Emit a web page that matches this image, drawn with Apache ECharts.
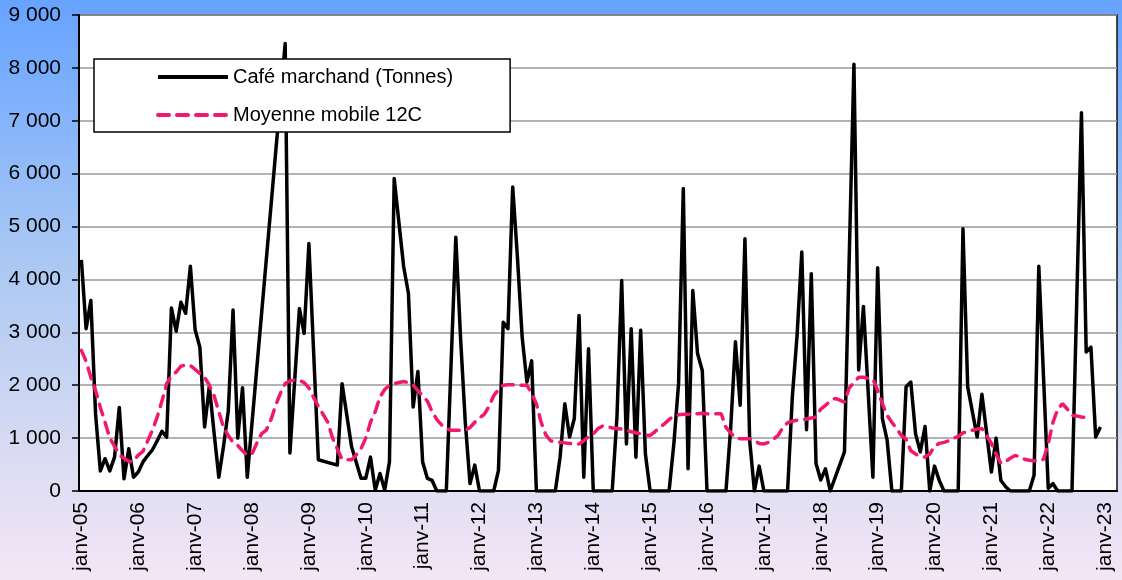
<!DOCTYPE html>
<html>
<head>
<meta charset="utf-8">
<script src="https://cdn.jsdelivr.net/npm/echarts@6/dist/echarts.min.js"></script>
<style>
  html, body { margin: 0; padding: 0; }
  #chart { width: 1122px; height: 580px; }
</style>
</head>
<body>
<div id="chart"></div>
<script>
// categories : janv-05 .. mars-23 (l'axe va un peu au-dela de janv-23)
const moisNoms = ["janv", "févr", "mars", "avr", "mai", "juin", "juil", "août", "sept", "oct", "nov", "déc"];
const mois = [];
for (let a = 5; a <= 23; a++) {
  for (let i = 0; i < 12; i++) {
    if (a === 23 && i > 2) break;
    mois.push(moisNoms[i] + "-" + String(a).padStart(2, "0"));
  }
}

// Café marchand (Tonnes), une ligne par année (null = mois absent)
const cafe = [
  4370, 3070, 3600, 1450, 380, 610, 380, 640, 1580, 230, 800, 260,
  360, 550, 670, 780, 950, 1130, 1020, 3460, 3020, 3570, 3360, 4250,
  3050, 2720, 1210, 1980, 1100, 260, 850, 1520, 3420, 1000, 1950, 260,
  null, null, null, null, null, null, null, 8460, 720, null, 3450, 2980,
  4680, null, 590, null, null, null, 490, 2030, null, 840, null, 240,
  240, 640, 20, 330, 20, 550, 5910, null, 4240, 3740, 1590, 2260,
  550, 240, 200, 0, 0, 0, null, 4800, 2900, 1300, 140, 490,
  0, 0, 0, 0, 390, 3190, 3070, 5750, 4420, 2910, 2060, 2460,
  0, 0, 0, 0, 0, 640, 1650, 1020, 1370, 3320, 260, 2690,
  0, 0, 0, 0, 0, 1400, 3980, 890, 3070, 640, 3040, 700,
  0, 0, 0, 0, 0, 890, 2030, 5720, 420, 3790, 2600, 2280,
  0, 0, 0, 0, 0, 1200, 2820, 1620, 4770, 960, 0, 470,
  0, 0, 0, 0, 0, 0, 1780, 2940, 4520, 1160, 4110, 520,
  210, 420, 0, null, null, 740, null, 8070, 2290, 3490, null, 260,
  4220, 1370, 960, 0, 0, 0, 1970, 2060, 1080, 740, 1220, 0,
  470, 200, 0, 0, 0, 0, 4960, 1970, null, 1020, 1830, null,
  360, 1000, 200, 80, 0, 0, 0, 0, 0, 300, 4250, null,
  50, 140, 0, 0, 0, 0, null, 7150, 2630, 2720, 1020, 1210
];

// Moyenne mobile 12C
const moyenne = [
  2660, 2450, 2150, 1900, 1580, 1300, 1000, 850, 680, 620, 560, 560,
  680, 750, 950, 1150, 1400, 1700, 2030, 2180, 2250, 2360, 2380, 2370,
  2300, 2220, 2150, 2000, 1800, 1500, 1200, 1050, 920, 860, 760, 680,
  700, 900, 1080, 1150, 1350, 1620, 1850, 2030, 2080, 2100, 2090, 2050,
  1950, 1770, 1600, 1450, 1300, 1000, 800, 600, 590, 590, 680, 800,
  1000, 1300, 1500, 1780, 1920, 2000, 2030, 2050, 2070, 2050, 2000, 1900,
  1800, 1700, 1500, 1350, 1250, 1180, 1150, 1150, 1150, 1150, 1200, 1300,
  1380, 1450, 1600, 1800, 1920, 2000, 2010, 2010, 2000, 2000, 2000, 1850,
  1650, 1300, 1060, 950, 930, 920, 910, 900, 890, 890, 950, 1030,
  1080, 1180, 1230, 1220, 1190, 1180, 1170, 1150, 1120, 1100, 1080, 1060,
  1050, 1120, 1200, 1270, 1350, 1420, 1440, 1450, 1450, 1460, 1460, 1470,
  1460, 1450, 1460, 1460, 1200, 1100, 1000, 990, 990, 990, 950, 900,
  890, 920, 980, 1050, 1200, 1290, 1320, 1340, 1340, 1360, 1380, 1400,
  1550, 1620, 1700, 1750, 1720, 1680, 1950, 2050, 2150, 2150, 2130, 2120,
  1900, 1650, 1430, 1300, 1180, 1050, 980, 760, 700, 650, 640, 700,
  850, 900, 920, 950, 1000, 1030, 1100, 1120, 1150, 1170, 1180, 1050,
  900, 700, 520, 560, 620, 670, 650, 600, 580, 570, 570, 600,
  900, 1300, 1550, 1650, 1550, 1430, 1420, 1400, 1390, null, null, null
];

const police = "'Liberation Sans', Arial, sans-serif";
const chaqueAnnee = (i) => i % 12 === 0;

const chart = echarts.init(document.getElementById("chart"));
chart.setOption({
  animation: false,
  backgroundColor: new echarts.graphic.LinearGradient(0, 0, 0, 1, [
    { offset: 0, color: "#66a3ff" },
    { offset: 0.45, color: "#aac8f4" },
    { offset: 0.8, color: "#dcdcf2" },
    { offset: 1, color: "#f4e6f6" },
  ]),
  grid: {
    left: 79,
    right: 5,
    top: 15,
    bottom: 89,
    containLabel: false,
    show: true,
    backgroundColor: "#fff",
    borderColor: "#111",
    borderWidth: 1.5,
  },
  legend: {
    left: 94,
    top: 59,
    orient: "vertical",
    backgroundColor: "#fff",
    borderColor: "#000",
    borderWidth: 1.5,
    borderRadius: 0,
    padding: [8, 57, 7, 62],
    itemWidth: 70,
    itemHeight: 20,
    itemGap: 18,
    itemStyle: { opacity: 0 },
    lineStyle: { width: 4 },
    textStyle: { fontSize: 20, color: "#000", fontFamily: police },
    data: ["Café marchand (Tonnes)", "Moyenne mobile 12C"],
  },
  xAxis: {
    type: "category",
    data: mois,
    boundaryGap: true,
    axisLine: { lineStyle: { color: "#000", width: 2 } },
    axisTick: { interval: chaqueAnnee, length: 7, lineStyle: { color: "#000", width: 1.5 } },
    axisLabel: {
      interval: chaqueAnnee,
      rotate: 90,
      margin: 11,
      fontSize: 21,
      color: "#000",
      fontFamily: police,
    },
    splitLine: { show: false },
  },
  yAxis: {
    type: "value",
    min: 0,
    max: 9000,
    interval: 1000,
    axisLine: { show: true, lineStyle: { color: "#000", width: 2 } },
    axisTick: { show: true, length: 7, lineStyle: { color: "#000", width: 1.5 } },
    axisLabel: {
      margin: 18,
      fontSize: 21,
      color: "#000",
      fontFamily: police,
      formatter: (v) => String(v).replace(/\B(?=(\d{3})+(?!\d))/g, " "),
    },
    splitLine: { lineStyle: { color: "#9a9a9a", width: 1.5 } },
  },
  series: [
    {
      name: "Café marchand (Tonnes)",
      type: "line",
      data: cafe,
      connectNulls: true,
      symbol: "none",
      lineStyle: { color: "#000", width: 3.5, join: "round" },
      itemStyle: { color: "#000" },
    },
    {
      name: "Moyenne mobile 12C",
      type: "line",
      data: moyenne,
      symbol: "none",
      lineStyle: { color: "#f2186f", width: 3.5, type: [11, 8], cap: "round" },
      itemStyle: { color: "#f2186f" },
    },
  ],
});
</script>
</body>
</html>
